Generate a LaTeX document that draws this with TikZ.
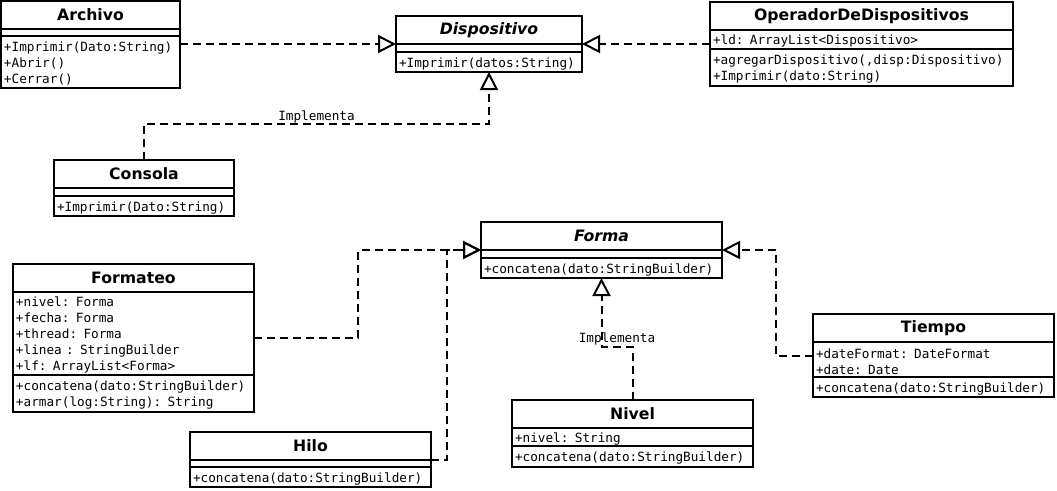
\documentclass[tikz,border=0pt]{standalone}
\usepackage{fontspec}
\setsansfont{DejaVu Sans}
\setmonofont{DejaVu Sans Mono}
\usetikzlibrary{arrows.meta,positioning}

\tikzset{
  umltitle/.style={draw, line width=2pt, outer sep=0pt, inner sep=0pt, minimum height=28,
    font=\sffamily\bfseries\fontsize{15.7}{18}\selectfont},
  umlpart/.style={draw, line width=2pt, outer sep=0pt, inner xsep=3pt, inner ysep=0pt,
    align=left, font=\ttfamily\fontsize{12.7}{16}\selectfont},
  umltext/.style={umlpart, execute at begin node={\rule{0pt}{13.5pt}}},
  realiza/.style={line width=2pt, dash pattern=on 8pt off 5pt,
    -{Triangle[open, length=18pt, width=18pt]}},
  etiqueta/.style={font=\ttfamily\fontsize{12.7}{16}\selectfont, anchor=base, inner sep=0pt}
}

\begin{document}
\begin{tikzpicture}[x=1pt, y=-1pt]
  \useasboundingbox (0,0) rectangle (1057,490);

  % Archivo
  \node[umltitle, minimum width=179] (archivo) at (90.5,15) {Archivo};
  \node[umlpart, minimum width=179, minimum height=7, below=0pt of archivo] (archivo-at) {};
  \node[umltext, text width=173, minimum height=52, below=0pt of archivo-at] (archivo-me)
    {+Imprimir(Dato:String)\\+Abrir()\\+Cerrar()};

  % Dispositivo
  \node[umltitle, minimum width=186] (dispositivo) at (489,30) {\itshape Dispositivo};
  \node[umlpart, minimum width=186, minimum height=8, below=0pt of dispositivo] (dispositivo-at) {};
  \node[umltext, text width=180, minimum height=20, below=0pt of dispositivo-at] (dispositivo-me)
    {+Imprimir(datos:String)};

  % OperadorDeDispositivos
  \node[umltitle, minimum width=303] (operador) at (861.5,16) {OperadorDeDispositivos};
  \node[umltext, text width=297, minimum height=19, below=0pt of operador] (operador-at)
    {+ld: ArrayList<Dispositivo>};
  \node[umltext, text width=297, minimum height=37, below=0pt of operador-at] (operador-me)
    {+agregarDispositivo(,disp:Dispositivo)\\+Imprimir(dato:String)};

  % Consola
  \node[umltitle, minimum width=180] (consola) at (144,174) {Consola};
  \node[umlpart, minimum width=180, minimum height=8, below=0pt of consola] (consola-at) {};
  \node[umltext, text width=174, minimum height=20, below=0pt of consola-at] (consola-me)
    {+Imprimir(Dato:String)};

  % Forma
  \node[umltitle, minimum width=241] (forma) at (601.5,236) {\itshape Forma};
  \node[umlpart, minimum width=241, minimum height=8, below=0pt of forma] (forma-at) {};
  \node[umltext, text width=235, minimum height=20, below=0pt of forma-at] (forma-me)
    {+concatena(dato:StringBuilder)};

  % Formateo
  \node[umltitle, minimum width=241] (formateo) at (133.5,278) {Formateo};
  \node[umltext, text width=235, minimum height=83, below=0pt of formateo] (formateo-at)
    {+nivel: Forma\\+fecha: Forma\\+thread: Forma\\+linea : StringBuilder\\+lf: ArrayList<Forma>};
  \node[umltext, text width=235, minimum height=37, below=0pt of formateo-at] (formateo-me)
    {+concatena(dato:StringBuilder)\\+armar(log:String): String};

  % Hilo
  \node[umltitle, minimum width=241] (hilo) at (310.5,446) {Hilo};
  \node[umlpart, minimum width=241, minimum height=7, below=0pt of hilo] (hilo-at) {};
  \node[umltext, text width=235, minimum height=20, below=0pt of hilo-at] (hilo-me)
    {+concatena(dato:StringBuilder)};

  % Nivel
  \node[umltitle, minimum width=241] (nivel) at (632.5,414) {Nivel};
  \node[umltext, text width=235, minimum height=18, below=0pt of nivel] (nivel-at)
    {+nivel: String};
  \node[umltext, text width=235, minimum height=21, below=0pt of nivel-at] (nivel-me)
    {+concatena(dato:StringBuilder)};

  % Tiempo
  \node[umltitle, minimum width=241] (tiempo) at (933.5,328) {Tiempo};
  \node[umltext, text width=235, minimum height=35, below=0pt of tiempo] (tiempo-at)
    {+dateFormat: DateFormat\\+date: Date};
  \node[umltext, text width=235, minimum height=20, below=0pt of tiempo-at] (tiempo-me)
    {+concatena(dato:StringBuilder)};

  % realizaciones
  \draw[realiza] (archivo.east |- dispositivo.south) -- (dispositivo.south west);
  \draw[realiza] (operador.west |- dispositivo.south) -- (dispositivo.south east);
  \draw[realiza] (consola.north) -- ++(0,-36) -| node[etiqueta, pos=0.25, yshift=4pt] {Implementa} (dispositivo-me.south);

  \draw[realiza] ([yshift=-4pt]formateo-at.east) -- ++(104,0) |- (forma.south west);
  \draw[realiza] (hilo.south east) -- ++(16,0) |- (forma.south west);
  \draw[realiza] (nivel.north) -- ++(0,-53) -| node[etiqueta, pos=0.25, yshift=5pt] {Implementa} (forma-me.south);
  \draw[realiza] ([yshift=4pt]tiempo-at.west) -- ++(-37,0) |- (forma.south east);
\end{tikzpicture}
\end{document}
